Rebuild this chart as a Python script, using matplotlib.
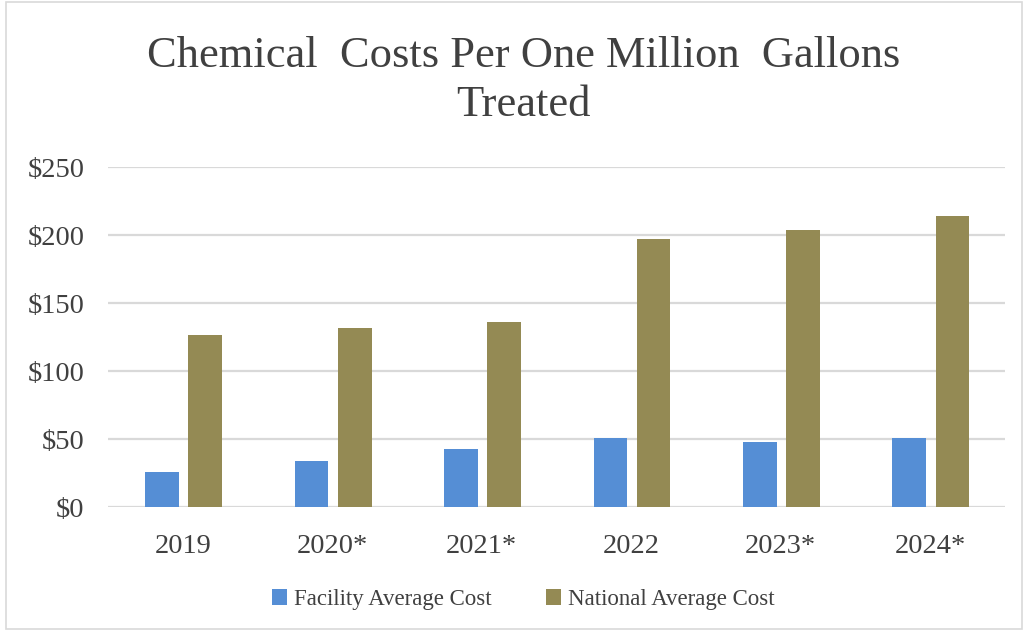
import matplotlib.pyplot as plt
import numpy as np
from matplotlib.patches import Rectangle

# data
years = ['2019', '2020*', '2021*', '2022', '2023*', '2024*']
facility = [26, 34, 43, 51, 48, 51]
national = [127, 132, 136, 197, 204, 214]

blue = '#558ED5'
olive = '#948A54'
txt = '#404040'

plt.rcParams['font.family'] = ['Liberation Serif', 'DejaVu Serif']

fig = plt.figure(figsize=(10.26, 6.31), dpi=100)
ax = fig.add_axes([0.1053, 0.196, 0.8742, 0.539])

x = np.arange(len(years))
w = 0.225
ax.bar(x - 0.14, facility, w, color=blue, label='Facility Average Cost', zorder=3)
ax.bar(x + 0.15, national, w, color=olive, label='National Average Cost', zorder=3)

ax.set_xlim(-0.5, len(years) - 0.5)
ax.set_ylim(0, 250)
ax.set_yticks(np.arange(0, 251, 50))
ax.set_yticklabels(['$' + str(v) for v in range(0, 251, 50)])
ax.set_xticks(x)
ax.set_xticklabels(years)
ax.tick_params(axis='both', length=0, labelsize=20.5, colors=txt)
ax.tick_params(axis='y', pad=17)
ax.tick_params(axis='x', pad=19)
ax.yaxis.grid(True, color='#D9D9D9', linewidth=1.6, zorder=0)
for s in ax.spines.values():
    s.set_visible(False)

fig.text(0.51, 0.912, 'Chemical  Costs Per One Million  Gallons', ha='center', va='center',
         fontsize=32, color=txt)
fig.text(0.51, 0.833, 'Treated', ha='center', va='center', fontsize=32, color=txt)

fig.legend(loc='center', bbox_to_anchor=(0.51, 0.05), ncol=2, frameon=False,
           fontsize=16.5, labelcolor=txt, handlelength=0.65, handleheight=0.65,
           handletextpad=0.3, columnspacing=2.4)

# light border round the chart area
fig.patches.append(Rectangle((0.006, 0.003), 0.99, 0.994, transform=fig.transFigure,
                             fill=False, edgecolor='#D9D9D9', linewidth=1.2))

fig.savefig('out.png', dpi=100)
